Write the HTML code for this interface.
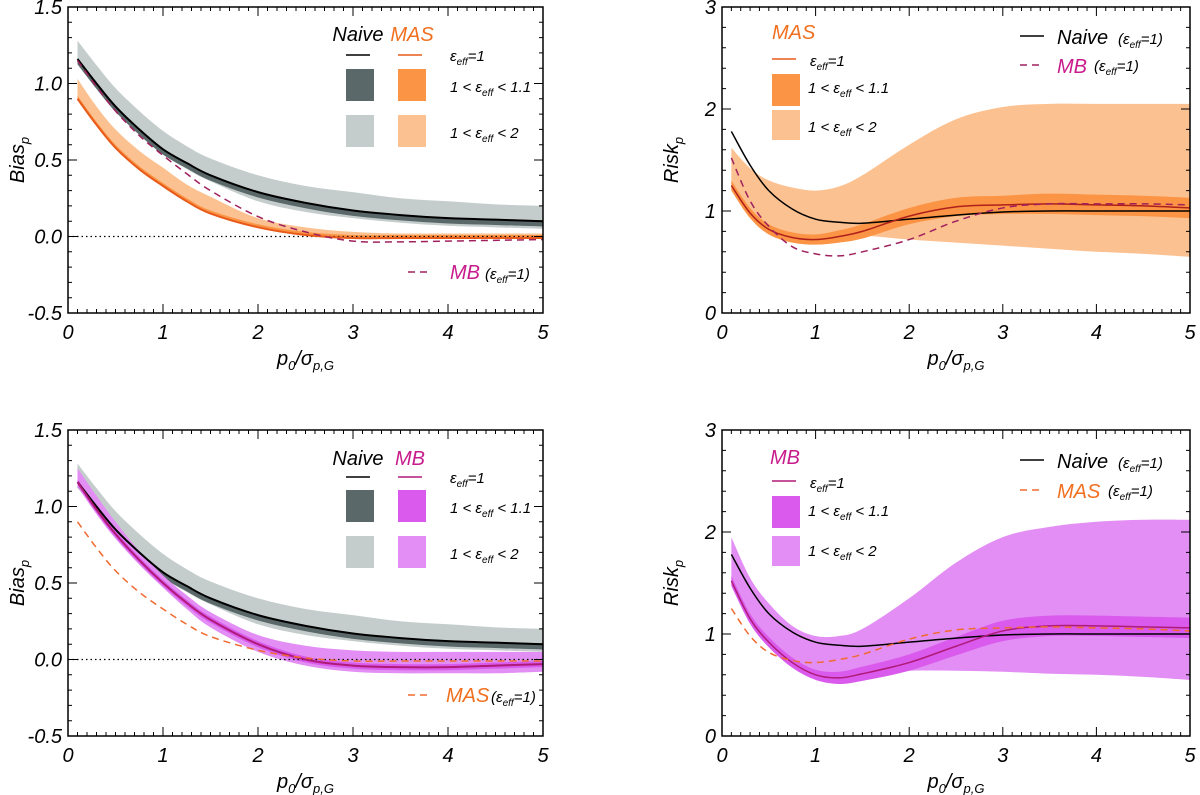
<!DOCTYPE html>
<html><head><meta charset="utf-8"><style>
body{margin:0;background:#fff}
svg{display:block;font-family:"Liberation Sans",sans-serif;font-style:italic}
</style></head><body>
<svg id="fig" width="1200" height="795" viewBox="0 0 1200 795"></svg>
<script>
const xs = [0.1,0.3,0.5,0.75,1,1.25,1.5,2,2.5,3,3.5,4,4.5,5];
// Bias panels
const naiveBias   = [1.16,1.00,0.85,0.70,0.57,0.48,0.40,0.29,0.22,0.17,0.14,0.12,0.11,0.10];
const naiveBiasHi = [1.28,1.12,0.97,0.82,0.69,0.59,0.51,0.40,0.33,0.29,0.25,0.23,0.21,0.20];
const naiveBiasLo = [1.14,0.98,0.83,0.67,0.54,0.44,0.36,0.23,0.16,0.12,0.09,0.07,0.06,0.05];
const masBias     = [0.90,0.73,0.58,0.44,0.33,0.23,0.15,0.06,0.01,-0.01,-0.01,-0.01,-0.01,-0.01];
const masBiasHi   = [1.03,0.85,0.70,0.56,0.45,0.34,0.26,0.12,0.06,0.03,0.02,0.02,0.02,0.02];
const mbBiasDash  = [1.15,0.98,0.82,0.66,0.53,0.41,0.30,0.13,0.03,-0.03,-0.035,-0.03,-0.025,-0.02];
const mbBias      = [1.16,0.98,0.82,0.65,0.50,0.37,0.26,0.10,0.00,-0.04,-0.05,-0.05,-0.04,-0.03];
const mbBiasHi    = [1.25,1.07,0.90,0.71,0.55,0.42,0.31,0.16,0.09,0.06,0.05,0.05,0.05,0.05];
const mbBiasLo    = [1.13,0.95,0.79,0.62,0.47,0.33,0.21,0.05,-0.04,-0.08,-0.09,-0.09,-0.09,-0.08];
// Risk panels
const naiveRisk   = [1.78,1.45,1.20,1.02,0.92,0.89,0.88,0.92,0.96,0.99,1.00,1.00,1.00,1.00];
const masRisk     = [1.25,0.98,0.82,0.74,0.72,0.75,0.80,0.95,1.04,1.06,1.07,1.06,1.05,1.03];
const masRiskD    = [0.05,0.05,0.05,0.05,0.05,0.06,0.07,0.08,0.09,0.09,0.1,0.1,0.1,0.1];
const masRiskHi   = [1.62,1.42,1.30,1.23,1.20,1.24,1.35,1.65,1.90,2.02,2.05,2.05,2.05,2.05];
const masRiskLo   = [1.22,0.95,0.80,0.76,0.76,0.76,0.76,0.72,0.69,0.66,0.63,0.60,0.58,0.55];
const mbRiskDash  = [1.52,1.10,0.85,0.65,0.58,0.56,0.60,0.72,0.90,1.03,1.07,1.07,1.07,1.06];
const mbRisk      = [1.52,1.15,0.92,0.72,0.60,0.57,0.61,0.72,0.88,1.03,1.08,1.08,1.07,1.06];
const mbRiskD     = [0.05,0.05,0.05,0.05,0.05,0.06,0.07,0.08,0.09,0.1,0.1,0.1,0.1,0.1];
const mbRiskHi    = [1.95,1.55,1.30,1.08,0.98,0.98,1.05,1.35,1.70,1.95,2.05,2.10,2.12,2.12];
const mbRiskLo    = [1.50,1.12,0.90,0.68,0.58,0.58,0.62,0.64,0.64,0.63,0.61,0.60,0.58,0.55];
const xTicks = ["0","1","2","3","4","5"];
const biasTicks = ["-0.5","0.0","0.5","1.0","1.5"];
const riskTicks = ["0","1","2","3"];

const NS="http://www.w3.org/2000/svg";
const fig=document.getElementById('fig');
function mk(tag,attrs,parent,text){const e=document.createElementNS(NS,tag);for(const k in attrs)e.setAttribute(k,attrs[k]);if(text!==undefined)e.textContent=text;(parent||fig).appendChild(e);return e;}
function smooth(pts){let d="M"+pts[0][0]+","+pts[0][1];for(let i=0;i<pts.length-1;i++){const p0=pts[i-1]||pts[i],p1=pts[i],p2=pts[i+1],p3=pts[i+2]||p2;
d+=" C"+(p1[0]+(p2[0]-p0[0])/6)+","+(p1[1]+(p2[1]-p0[1])/6)+" "+(p2[0]-(p3[0]-p1[0])/6)+","+(p2[1]-(p3[1]-p1[1])/6)+" "+p2[0]+","+p2[1];}return d;}

function panel(P){
  const g=mk('g',{});
  
  
  const X=v=>P.x0+(P.x1-P.x0)*v/5, Y=v=>P.y1-(P.y1-P.y0)*(v-P.ymin)/(P.ymax-P.ymin);
  const line=a=>xs.map((x,i)=>[X(x),Y(a[i])]);
  function band(hi,lo,fill,nm){const top=line(hi),bot=line(lo).reverse();
    const p=mk('path',{d:smooth(top)+" L"+smooth(bot).slice(1)+" Z",fill:fill},g);
    }
  function curve(a,col,w,dash,nm){const p=mk('path',{d:smooth(line(a)),fill:'none',stroke:col,'stroke-width':w,'stroke-dasharray':dash||'none'},g);
    }
  P.draw(band,curve,X,Y,g);
  if(P.zero){const z=mk('line',{x1:P.x0,x2:P.x1,y1:Y(0),y2:Y(0),stroke:'#000','stroke-dasharray':'1.5,3','stroke-width':1.2},g);
    }
  P.after(band,curve,X,Y,g);
  const f=mk('rect',{x:P.x0,y:P.y0,width:P.x1-P.x0,height:P.y1-P.y0,fill:'none',stroke:'#000','stroke-width':1.5},g);
  
  let d="";
  for(let i=0;i<=50;i++){const x=X(i/10),L=i%10==0?9:4;d+=`M${x},${P.y1}v${-L}M${x},${P.y0}v${L}`;}
  for(let v=P.ymin;v<=P.ymax+1e-6;v+=P.minor){const y=Y(v),L=Math.abs(v/P.major-Math.round(v/P.major))<1e-6?9:4;d+=`M${P.x0},${y}h${L}M${P.x1},${y}h${-L}`;}
  mk('path',{d:d,stroke:'#000','stroke-width':1,fill:'none'},g);
  xTicks.forEach((t,i)=>{const e=mk('text',{x:X(+t),y:P.y1+26,'font-size':20,'text-anchor':'middle'},g,t);
    });
  P.yt.forEach(t=>{const e=mk('text',{x:P.x0-6,y:Y(+t)+7,'font-size':20,'text-anchor':'end'},g,t);
    });
  const xt=mk('text',{x:(P.x0+P.x1)/2,y:P.y1+52,'font-size':20,'text-anchor':'middle'},g);
  
  xt.innerHTML='p<tspan font-size="13" dy="5">0</tspan><tspan dy="-5">/σ</tspan><tspan font-size="13" dy="5">p,G</tspan>';
  const yt=mk('text',{transform:`translate(${P.x0-44},${(P.y0+P.y1)/2}) rotate(-90)`,'font-size':20,'text-anchor':'middle'},g);
  
  yt.innerHTML=P.ytitle+'<tspan font-size="13" dy="5">p</tspan>';
}
const eff='ε<tspan font-size="10" dy="4">eff</tspan><tspan dy="-4">';
function txt(g,x,y,html,size,col,nm,anchor){const e=mk('text',{x:x,y:y,'font-size':size,fill:col||'#000','text-anchor':anchor||'start'},g);e.innerHTML=html;
  return e;}
function rect(g,x,y,w,h,c,nm){const r=mk('rect',{x:x,y:y,width:w,height:h,fill:c},g);}
function seg2(g,x,y,c,dash,nm){const l=mk('line',{x1:x,x2:x+24,y1:y,y2:y,stroke:c,'stroke-width':1.5,'stroke-dasharray':dash||'none'},g);}

const C={nd:'#5a6869',nl:'#c4cdcc',md:'#fb9444',ml:'#fcc190',mline:'#e85a1a',bd:'#d95aec',bl:'#e38ef4',bline:'#b01a78',bdash:'#a0205e',mbtxt:'#c81c8c',mastxt:'#f07020'};
const add=(a,b,s)=>a.map((v,i)=>v+s*b[i]);

panel({name:'bias-mas-panel',x0:68,x1:543,y0:7,y1:313,ymin:-0.5,ymax:1.5,minor:0.1,major:0.5,yt:biasTicks,ytitle:'Bias',zero:true,
 draw(band,curve){band(naiveBiasHi,naiveBiasLo,C.nl,'naive-band-wide');band(naiveBias.map(v=>v+0.005),naiveBias.map(v=>v-0.035),C.nd,'naive-band-narrow');
   band(masBiasHi,masBias,C.ml,'mas-band-wide');band(masBias.map(v=>v+0.02),masBias,C.md,'mas-band-narrow');},
 after(band,curve,X,Y,g){curve(naiveBias,'#000',2,null,'naive-line');curve(masBias,C.mline,2,null,'mas-line');curve(mbBiasDash,C.bdash,1.5,'7,5','mb-dashed-line');
   txt(g,358,41,'Naive',20,'#000','legend-naive-title','middle');txt(g,412,41,'MAS',20,C.mastxt,'legend-mas-title','middle');
   seg2(g,346,55,'#000',null,'legend-naive-line');seg2(g,398,55,C.mline,null,'legend-mas-line');txt(g,450,61,eff+'=1</tspan>',15,'#000','legend-eff1');
   rect(g,346,69,28,32,C.nd,'legend-naive-narrow');rect(g,398,69,28,32,C.md,'legend-mas-narrow');txt(g,450,92,'1 &lt; '+eff+' &lt; 1.1</tspan>',15,'#000','legend-eff-11');
   rect(g,346,115,28,32,C.nl,'legend-naive-wide');rect(g,398,115,28,32,C.ml,'legend-mas-wide');txt(g,450,138,'1 &lt; '+eff+' &lt; 2</tspan>',15,'#000','legend-eff-2');
   seg2(g,408,272,C.bdash,'7,5','legend-mb-dash');txt(g,450,279,'MB',20,C.mbtxt,'legend-mb');txt(g,485,279,'('+eff+'=1)</tspan>',15,'#000','legend-mb-eff');}
});
panel({name:'risk-mas-panel',x0:722,x1:1190,y0:7,y1:313,ymin:0,ymax:3,minor:0.2,major:1,yt:riskTicks,ytitle:'Risk',zero:false,
 draw(band,curve){band(masRiskHi,masRiskLo,C.ml,'mas-band-wide');band(add(masRisk,masRiskD,1),add(masRisk,masRiskD,-1),C.md,'mas-band-narrow');},
 after(band,curve,X,Y,g){curve(naiveRisk,'#000',1.5,null,'naive-line');curve(masRisk,'#b0201a',1.5,null,'mas-line');curve(mbRiskDash,C.bdash,1.5,'7,5','mb-dashed-line');
   txt(g,772,39,'MAS',20,C.mastxt,'legend-mas-title');seg2(g,772,59,C.mline,null,'legend-mas-line');txt(g,810,66,eff+'=1</tspan>',15,'#000','legend-eff1');
   rect(g,772,74,28,32,C.md,'legend-mas-narrow');txt(g,808,93,'1 &lt; '+eff+' &lt; 1.1</tspan>',15,'#000','legend-eff-11');
   rect(g,772,110,28,30,C.ml,'legend-mas-wide');txt(g,808,132,'1 &lt; '+eff+' &lt; 2</tspan>',15,'#000','legend-eff-2');
   seg2(g,1020,36,'#000',null,'legend-naive-line');txt(g,1057,44,'Naive',20,'#000','legend-naive');txt(g,1118,44,'('+eff+'=1)</tspan>',15,'#000','legend-naive-eff');
   seg2(g,1020,65,C.bdash,'7,5','legend-mb-dash');txt(g,1057,73,'MB',20,C.mbtxt,'legend-mb');txt(g,1094,71,'('+eff+'=1)</tspan>',15,'#000','legend-mb-eff');}
});
panel({name:'bias-mb-panel',x0:68,x1:543,y0:430,y1:736,ymin:-0.5,ymax:1.5,minor:0.1,major:0.5,yt:biasTicks,ytitle:'Bias',zero:true,
 draw(band,curve){band(naiveBiasHi,naiveBiasLo,C.nl,'naive-band-wide');band(naiveBias.map(v=>v+0.005),naiveBias.map(v=>v-0.035),C.nd,'naive-band-narrow');
   band(mbBiasHi,mbBiasLo,C.bl,'mb-band-wide');band(mbBias.map(v=>v+0.02),mbBias.map(v=>v-0.02),C.bd,'mb-band-narrow');},
 after(band,curve,X,Y,g){curve(naiveBias,'#000',2,null,'naive-line');curve(mbBias,C.bline,2,null,'mb-line');curve(masBias,'#f06a30',1.5,'7,5','mas-dashed-line');
   txt(g,358,465,'Naive',20,'#000','legend-naive-title','middle');txt(g,410,465,'MB',20,C.mbtxt,'legend-mb-title','middle');
   seg2(g,346,477,'#000',null,'legend-naive-line');seg2(g,398,477,C.bline,null,'legend-mb-line');txt(g,450,483,eff+'=1</tspan>',15,'#000','legend-eff1');
   rect(g,346,490,28,32,C.nd,'legend-naive-narrow');rect(g,398,490,28,32,C.bd,'legend-mb-narrow');txt(g,450,513,'1 &lt; '+eff+' &lt; 1.1</tspan>',15,'#000','legend-eff-11');
   rect(g,346,536,28,32,C.nl,'legend-naive-wide');rect(g,398,536,28,32,C.bl,'legend-mb-wide');txt(g,450,559,'1 &lt; '+eff+' &lt; 2</tspan>',15,'#000','legend-eff-2');
   seg2(g,408,695,'#f06a30','7,5','legend-mas-dash');txt(g,446,702,'MAS',20,C.mastxt,'legend-mas');txt(g,491,702,'('+eff+'=1)</tspan>',15,'#000','legend-mas-eff');}
});
panel({name:'risk-mb-panel',x0:722,x1:1190,y0:430,y1:736,ymin:0,ymax:3,minor:0.2,major:1,yt:riskTicks,ytitle:'Risk',zero:false,
 draw(band,curve){band(mbRiskHi,mbRiskLo,C.bl,'mb-band-wide');band(add(mbRisk,mbRiskD,1),add(mbRisk,mbRiskD,-1),C.bd,'mb-band-narrow');},
 after(band,curve,X,Y,g){curve(naiveRisk,'#000',1.5,null,'naive-line');curve(mbRisk,C.bline,1.5,null,'mb-line');curve(masRisk,'#f06a30',1.5,'7,5','mas-dashed-line');
   txt(g,770,464,'MB',20,C.mbtxt,'legend-mb-title');seg2(g,772,481,C.bline,null,'legend-mb-line');txt(g,810,488,eff+'=1</tspan>',15,'#000','legend-eff1');
   rect(g,772,496,28,32,C.bd,'legend-mb-narrow');txt(g,808,516,'1 &lt; '+eff+' &lt; 1.1</tspan>',15,'#000','legend-eff-11');
   rect(g,772,536,28,30,C.bl,'legend-mb-wide');txt(g,808,556,'1 &lt; '+eff+' &lt; 2</tspan>',15,'#000','legend-eff-2');
   seg2(g,1020,460,'#000',null,'legend-naive-line');txt(g,1057,468,'Naive',20,'#000','legend-naive');txt(g,1118,468,'('+eff+'=1)</tspan>',15,'#000','legend-naive-eff');
   seg2(g,1020,490,'#f06a30','7,5','legend-mas-dash');txt(g,1057,498,'MAS',20,C.mastxt,'legend-mas');txt(g,1108,496,'('+eff+'=1)</tspan>',15,'#000','legend-mas-eff');}
});
</script>
</body></html>
